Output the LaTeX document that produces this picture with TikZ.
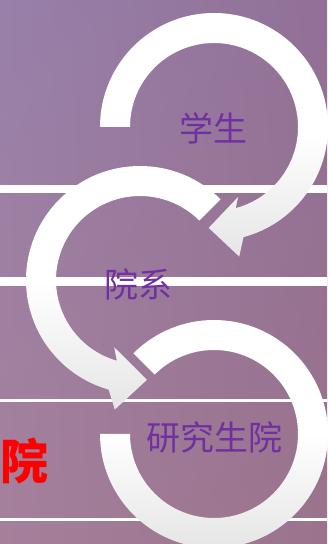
\documentclass[tikz,border=0pt]{standalone}
\usepackage{fontspec}
\usepackage{tikz}
\usetikzlibrary{shadings}
\newfontfamily\cjkfont{Noto Sans CJK SC}
\definecolor{stagepurple}{HTML}{7030A0}
\definecolor{bgtl}{RGB}{152,128,170}
\definecolor{bgtr}{RGB}{145,112,150}
\definecolor{bgbl}{RGB}{165,128,155}
\definecolor{bgbr}{RGB}{155,115,140}

\begin{document}
\begin{tikzpicture}[x=1pt,y=1pt,
  ring/.style={top color=white,bottom color=black!10,middle color=white,draw=none},
  band/.style={white,line width=#1},
  stage/.style={text=stagepurple,inner sep=0pt,font=\cjkfont\fontsize{34}{34}\selectfont}]
\useasboundingbox (0,0) rectangle (327,544);
\shade[upper left=bgtl,upper right=bgtr,lower left=bgbl,lower right=bgbr] (0,0) rectangle (327,544);
\draw[band=8pt] (0,355) -- (327,355);
\draw[band=9pt] (0,262) -- (327,262);
\draw[band=3pt] (0,143) -- (327,143);
\draw[band=3pt] (0,24.5) -- (327,24.5);
\begin{scope}[shift={(214,417)}]
\shade[ring] (180:114) arc[start angle=180,end angle=-75,radius=114] -- (-79:132) -- (-93:101)
             -- (-71:74) -- (-75:84) arc[start angle=-75,end angle=180,radius=84] -- cycle;
\end{scope}
\begin{scope}[shift={(140,264)}]
\shade[ring] (45:114) arc[start angle=45,end angle=254,radius=114] -- (259:132) -- (274:100)
             -- (249:72) -- (254:84) arc[start angle=254,end angle=45,radius=84] -- cycle;
\end{scope}
\begin{scope}[shift={(214,110)}]
\shade[ring] (180:114) arc[start angle=180,end angle=495,radius=114]
             -- (495:84) arc[start angle=495,end angle=180,radius=84] -- cycle;
\end{scope}
\node[stage] (student) at (213,416) {学生};
\node[stage] (dept) at (138,260) {院系};
\node[stage] (gradschool) at (214,106) {研究生院};
\node[text=red,inner sep=0pt,font=\cjkfont\bfseries\fontsize{48}{48}\selectfont] (yuan) at (24,83) {院};
\end{tikzpicture}
\end{document}
